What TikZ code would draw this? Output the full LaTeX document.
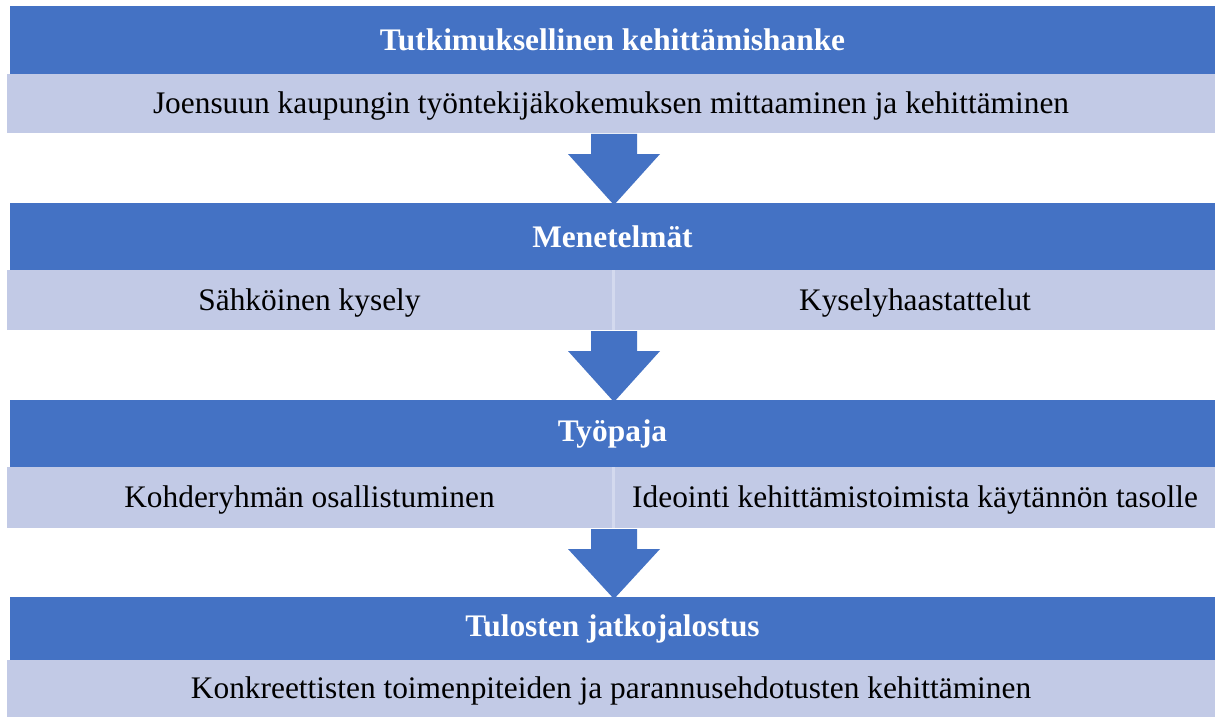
\documentclass[tikz,border=0pt]{standalone}
\usepackage{fontspec}
\setmainfont{Liberation Serif}
\usetikzlibrary{calc}
\definecolor{headblue}{HTML}{4472C4}
\definecolor{rowblue}{HTML}{C2CAE6}
\definecolor{gapblue}{HTML}{D3D9EE}
\tikzset{
  head/.style={fill=headblue,text=white,font=\fontsize{31.5}{36}\selectfont\bfseries,
    inner sep=0,outer sep=0,anchor=north west,minimum width=1205bp},
  row/.style={fill=rowblue,text=black,font=\fontsize{31.5}{36}\selectfont,
    text height=27bp,text depth=6.5bp,inner sep=0,outer sep=0,anchor=north west},
}
% block arrow from a row down to the next header
\newcommand{\flowarrow}[2]{%
  \fill[headblue] ($(614,0 |- #1.south)+(-23,1)$) -- ++(0,20) -- ++(-23,0)
    -- ($(614,0 |- #2.north)+(0,2)$) -- ($(614,0 |- #1.south)+(46,21)$)
    -- ++(-23,0) -- ++(0,-20) -- cycle;}
\begin{document}
\begin{tikzpicture}[x=1bp,y=-1bp]
\useasboundingbox[fill=white] (0,0) rectangle (1215,717);
% hanke
\node[head,minimum height=68bp] (hanke) at (10,6) {Tutkimuksellinen kehittämishanke};
\node[row,minimum width=1208bp,minimum height=59bp] (aihe) at (7,74)
  {Joensuun kaupungin työntekijäkokemuksen mittaaminen ja kehittäminen};
% menetelmat
\node[head,minimum height=67bp] (menetelmat) at (10,203) {Menetelmät};
\fill[gapblue] (612,270) rectangle (615,330);
\node[row,minimum width=605bp,minimum height=60bp] (kysely) at (7,270) {Sähköinen kysely};
\node[row,minimum width=600bp,minimum height=60bp] (haastattelu) at (615,270) {Kyselyhaastattelut};
% tyopaja
\node[head,minimum height=67bp] (tyopaja) at (10,400) {Työpaja};
\fill[gapblue] (612,467) rectangle (615,528);
\node[row,minimum width=605bp,minimum height=61bp] (osallistuminen) at (7,467) {Kohderyhmän osallistuminen};
\node[row,minimum width=600bp,minimum height=61bp] (ideointi) at (615,467)
  {Ideointi kehittämistoimista käytännön tasolle};
% jatkojalostus
\node[head,minimum height=63bp] (jatko) at (10,597) {Tulosten jatkojalostus};
\node[row,minimum width=1208bp,minimum height=57bp] (tulos) at (7,660)
  {Konkreettisten toimenpiteiden ja parannusehdotusten kehittäminen};
% arrows
\flowarrow{aihe}{menetelmat}
\flowarrow{kysely}{tyopaja}
\flowarrow{osallistuminen}{jatko}
\end{tikzpicture}
\end{document}
